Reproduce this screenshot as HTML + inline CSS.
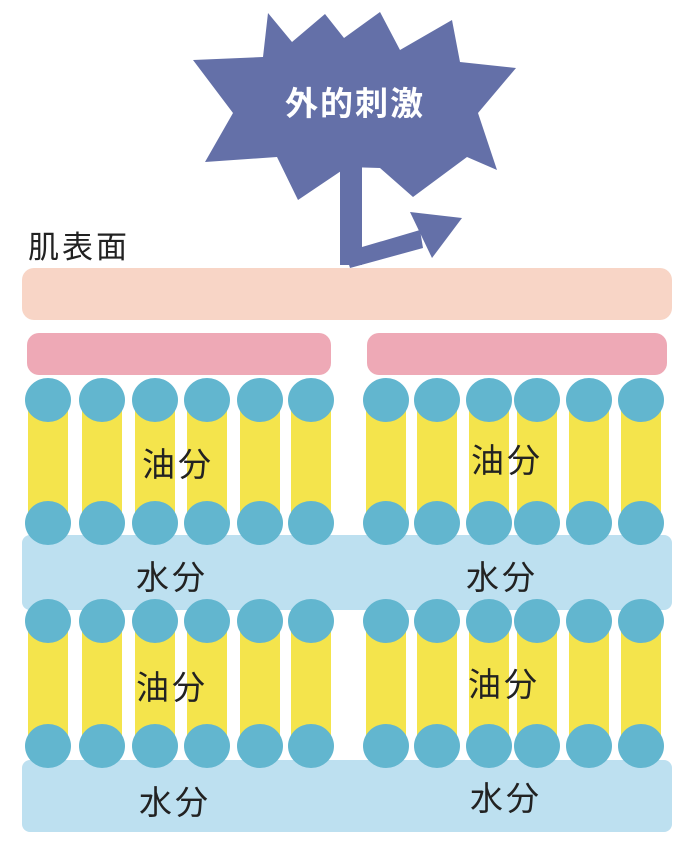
<!DOCTYPE html>
<html><head><meta charset="utf-8"><style>
html,body{margin:0;padding:0;background:#fff;}
body{width:689px;height:854px;position:relative;overflow:hidden;font-family:"Liberation Sans","Noto Sans CJK JP",sans-serif;}
.a{position:absolute;}
.c{position:absolute;width:46px;height:44px;border-radius:50%;background:#62b6cf;}
.y{position:absolute;width:40px;background:#f4e44c;}
.t{position:absolute;font-size:33px;color:#222;letter-spacing:3px;white-space:nowrap;}
</style></head><body>
<svg class="a" style="left:0;top:0" width="689" height="280">
<polygon fill="#6470a8" points="268,13 292,42 325,14 344,38 380,12 400,50 452,20 460,62 516,68 478,113 497,170 467,157 413,197 380,168 347,167 298,200 277,157 205,162 233,113 193,60 263,57"/>
<rect x="340" y="150" width="22" height="115" fill="#6470a8"/>
<polygon fill="#6470a8" points="345,252 420,230 423,248 350,268"/>
<polygon fill="#6470a8" points="410,212 462,218 432,258"/>
<text x="285" y="115" fill="#fff" font-size="33" font-weight="bold" letter-spacing="2" font-family="Liberation Sans, Noto Sans CJK JP, sans-serif">外的刺激</text>
</svg>
<div class="t" style="left:28px;top:222px;font-size:31px">肌表面</div>
<div class="a" style="left:22px;top:268px;width:650px;height:52px;background:#f8d5c6;border-radius:12px"></div>
<div class="a" style="left:27px;top:333px;width:304px;height:42px;background:#eea9b6;border-radius:12px"></div>
<div class="a" style="left:367px;top:333px;width:300px;height:42px;background:#eea9b6;border-radius:12px"></div>
<div class="a" style="left:22px;top:535px;width:650px;height:75px;background:#bde0f0;border-radius:8px"></div>
<div class="a" style="left:22px;top:760px;width:650px;height:72px;background:#bde0f0;border-radius:8px"></div>
<div id="g"></div>
<script>
var xs=[48,102,155,207,260,311,386,437,489,537,589,641];
var h='';
[[400,523],[621,746]].forEach(function(r){
xs.forEach(function(x){
h+='<div class="y" style="left:'+(x-20)+'px;top:'+r[0]+'px;height:'+(r[1]-r[0])+'px"></div>';
h+='<div class="c" style="left:'+(x-23)+'px;top:'+(r[0]-22)+'px"></div>';
h+='<div class="c" style="left:'+(x-23)+'px;top:'+(r[1]-22)+'px"></div>';
});});
document.getElementById('g').innerHTML=h;
</script>
<div class="t" style="left:142px;top:438px">油分</div>
<div class="t" style="left:471px;top:434px">油分</div>
<div class="t" style="left:136px;top:551px">水分</div>
<div class="t" style="left:466px;top:551px">水分</div>
<div class="t" style="left:136px;top:661px">油分</div>
<div class="t" style="left:468px;top:658px">油分</div>
<div class="t" style="left:139px;top:776px">水分</div>
<div class="t" style="left:470px;top:772px">水分</div>
</body></html>
